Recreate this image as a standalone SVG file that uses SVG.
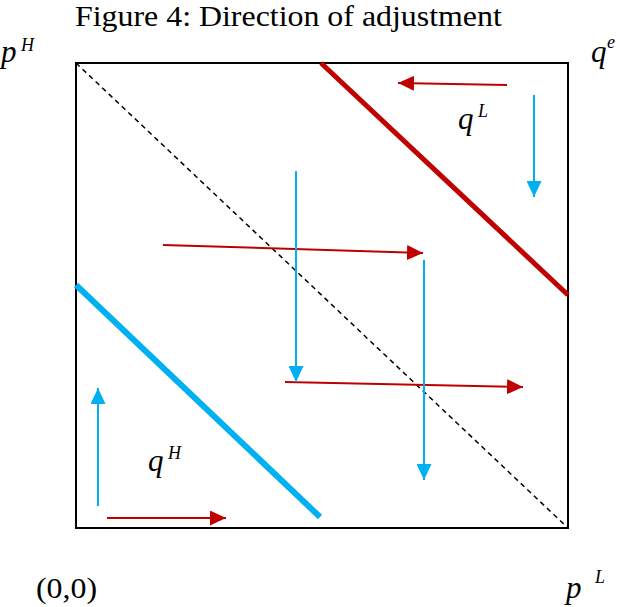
<svg xmlns="http://www.w3.org/2000/svg" width="620" height="607" viewBox="0 0 620 607">
<defs>
<style>
text{font-family:'Liberation Serif','Times New Roman',Tinos,'Nimbus Roman',serif;fill:#000}
.i{font-style:italic;font-size:31px}
.s{font-style:italic;font-size:18px}
.red{stroke:#C00000;stroke-width:2;fill:none}
.blue{stroke:#00B0F0;stroke-width:2;fill:none}
</style>
<marker id="hr" markerUnits="userSpaceOnUse" markerWidth="16" markerHeight="15" refX="16" refY="7.5" orient="auto" viewBox="0 0 16 15"><path d="M0,0 L16,7.5 L0,15 z" fill="#C00000"/></marker>
<marker id="hb" markerUnits="userSpaceOnUse" markerWidth="16" markerHeight="15" refX="16" refY="7.5" orient="auto" viewBox="0 0 16 15"><path d="M0,0 L16,7.5 L0,15 z" fill="#00B0F0"/></marker>
</defs>
<rect width="620" height="607" fill="#fff"/>
<text transform="translate(75,26) scale(1.1,1)" x="0" y="0" font-size="29">Figure 4: Direction of adjustment</text>
<g id="frame">
<rect x="76" y="63" width="492" height="465" fill="none" stroke="#000" stroke-width="2"/>
<line x1="76" y1="63" x2="568" y2="528" stroke="#000" stroke-width="1.5" stroke-dasharray="5,4"/>
</g>
<g id="qL-curve"><line x1="321" y1="63" x2="568" y2="295" stroke="#C00000" stroke-width="5"/></g>
<g id="qH-curve"><line x1="76" y1="285" x2="320" y2="517" stroke="#00B0F0" stroke-width="6"/></g>
<g id="connectors">
<line class="red" x1="507" y1="85" x2="398" y2="83" marker-end="url(#hr)"/>
<line class="red" x1="163" y1="245" x2="423" y2="253" marker-end="url(#hr)"/>
<line class="red" x1="285" y1="382" x2="523" y2="387" marker-end="url(#hr)"/>
<line class="red" x1="107" y1="518" x2="226" y2="518" marker-end="url(#hr)"/>
<line class="blue" x1="534" y1="95" x2="534" y2="197" marker-end="url(#hb)"/>
<line class="blue" x1="296" y1="171" x2="296" y2="382" marker-end="url(#hb)"/>
<line class="blue" x1="424" y1="260" x2="424" y2="480" marker-end="url(#hb)"/>
<line class="blue" x1="98" y1="506" x2="98" y2="388" marker-end="url(#hb)"/>
</g>
<g id="labels">
<text class="i" x="1" y="62">p</text><text class="s" x="21" y="51">H</text>
<text class="i" x="591" y="62">q</text><text class="s" x="607" y="48">e</text>
<text class="i" x="458" y="129">q</text><text class="s" x="478" y="117">L</text>
<text class="i" x="148" y="471">q</text><text class="s" x="168" y="459">H</text>
<text transform="translate(36,598) scale(1.1,1)" x="0" y="0" font-size="29">(0,0)</text>
<text class="i" x="566" y="598">p</text><text class="s" x="595" y="583">L</text>
</g>
</svg>
